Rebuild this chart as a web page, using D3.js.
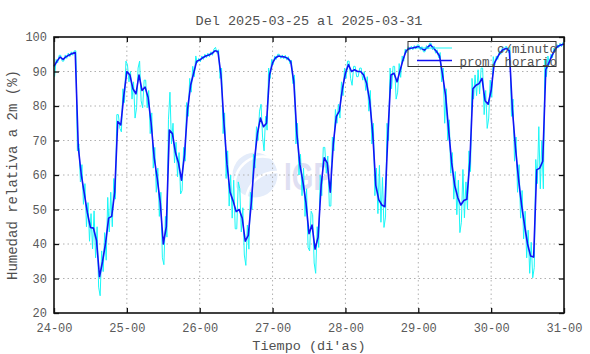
<!DOCTYPE html>
<html>
<head>
<meta charset="utf-8">
<script src="https://cdn.jsdelivr.net/npm/d3@7"></script>
<style>
  body { margin: 0; background: #fff; }
  text { font-family: "Liberation Mono", "DejaVu Sans Mono", monospace; fill: #505050; }
</style>
</head>
<body>
<svg id="chart" width="590" height="354"></svg>
<script>
// tick labels
const dayLabels = ["24-00", "25-00", "26-00", "27-00", "28-00", "29-00", "30-00", "31-00"];
const humTicks = [20, 30, 40, 50, 60, 70, 80, 90, 100];

// hourly mean RH (%), one value per hour from 24-00 to 31-00
const hourlyMean = [
  91.5, 93, 94.2, 93.5, 94.3, 94.8, 95.2, 95.5, 68, 60, 54.5, 49, 44.8, 44.6, 41, 30.5, 35, 40.3, 47.5, 48, 55, 75.5, 74.5, 83,
  90, 89, 85, 83.5, 89, 84.5, 85.5, 82.5, 75, 65, 59, 52, 40, 45, 73, 72, 66.5, 63.5, 58.5, 66, 79, 86, 89.5, 93,
  93.3, 94, 94.5, 94.8, 95.2, 96, 95.8, 89, 75, 63, 55, 52.5, 49.4, 50, 47.5, 40.8, 42.5, 52, 64, 72, 76.5, 74, 75, 89,
  92.5, 94, 94.5, 94.3, 94.2, 93.8, 92.8, 87, 72, 63, 58, 52, 43, 45.5, 38.5, 42, 57, 65, 63.5, 55, 69, 77, 78.5, 85,
  89.5, 92, 90, 90.5, 90, 90, 89, 86.5, 81.5, 72, 57, 52.8, 51.3, 50.8, 72, 89, 89.5, 87, 90.3, 93.5, 96, 96.7, 96.8, 97,
  97.2, 96.7, 96.2, 97, 97.7, 96.8, 95.8, 94.5, 89, 83, 73, 63.5, 57, 53.5, 51.3, 52.6, 53, 64, 85, 86, 86.5, 88, 81.5, 80.5,
  84.5, 92.3, 94, 95.5, 96.4, 96.7, 96, 79, 68, 59, 51.5, 45.5, 40, 36.5, 36.2, 61.5, 62, 64, 90.5, 92.5, 94.5, 96.3, 97.3, 97.7,
  98
];

// per-minute spread inside each hour: how far the minute readings go below / above the hourly segment
const minuteDown = [
  3, .5, .5, .5, .5, .5, .5, 1, 2, 3, 4, 4, 6, 5, 3, 5.5, 3, 5, 4, 3, 2, 1, 2, 2,
  2, 3, 7, 4, 3, 5, 3, 3, 3, 4, 4, 4, 6, 3, 3, 3, 4, 4, 3, 2, 2, 2, 1, .5,
  .5, .5, .5, .5, .5, .5, 1, 3, 4, 4, 5, 5, 5, 4, 4, 7, 4, 2, 2, 2, 3, 7, 2, 1,
  .5, .5, .5, .5, .5, .5, .5, 3, 3, 4, 4, 4, 5, 4, 7, 3, 3, 3, 4, 4, 2, 2, 2, 2,
  1.5, 2, 4, 1.5, 1.5, 1.5, 2, 3, 3, 3, 4, 5, 6, 3, 2, 4, 5, 3, 2, .5, .5, .5, .5, .5,
  .5, .5, .5, .5, .5, .5, .5, 2, 8, 3, 3, 4, 5, 8, 5, 5, 3, 3, 3, 3, 3, 4, 7, 4,
  2, .5, .5, .5, .5, .5, 2, 4, 4, 4, 4, 4, 5, 6, 3, 4, 6, 8, 2, .5, .5, .5, .5, .5
];
const minuteUp = [
  .5, .5, .5, .5, .5, .5, .5, .5, 1, 3, 3, 3, 4, 5, 4, 3, 3, 6, 7, 4, 2, 2, 2, 3,
  2, 1, 2, 2, 4, 2, 2, 2, 3, 3, 3, 3, 3, 3, 11, 3, 3, 3, 2, 2, 2, 2, 1.5, .5,
  .5, .5, .5, .5, .5, 1, .5, 2, 3, 4, 5, 6, 8, 6, 3, 3, 3, 2, 2, 2, 4, 2, 2, 1,
  .5, .5, .5, .5, .5, .5, .5, 2, 3, 3, 4, 4, 4, 3, 3, 3, 3, 3, 2, 2, 2, 2, 2, 1.5,
  1, 1, 1, 1, 1, 1, 1, 2, 3, 3, 5, 10, 8, 3, 2, 2, 2, 2, 1, .5, .5, .5, .5, .5,
  .5, .5, .5, .5, .5, .5, .5, 1, 2, 2, 3, 3, 4, 5, 9, 5, 3, 3, 3, 4, 3, 3, 3, 3,
  2, .5, .5, .5, .5, .5, 1, 3, 3, 4, 4, 4, 4, 4, 3, 12, 6, 3, 2, .5, .5, .5, .5, .5
];

const svg = d3.select("#chart");
const plotLeft = 54, plotRight = 564, plotTop = 37, plotBottom = 313;

const x = d3.scaleLinear().domain([0, 168]).range([plotLeft, plotRight]);
const y = d3.scaleLinear().domain([20, 100]).range([plotBottom, plotTop]);
const dayHours = dayLabels.map((d, i) => i * 24);

// watermark logo
const logo = svg.append("g").attr("class", "watermark");
logo.append("circle").attr("cx", 255).attr("cy", 175).attr("r", 22.5).attr("fill", "#e4ecfa");
[[232, 188, 270, 153, 26], [237, 196, 276, 160, 28], [246, 200, 278, 172, 30]].forEach(a => {
  logo.append("path")
    .attr("d", `M${a[0]},${a[1]} A${a[4]},${a[4]} 0 0 1 ${a[2]},${a[3]}`)
    .attr("fill", "none").attr("stroke", "#fff").attr("stroke-width", 2.5);
});
logo.append("text")
  .attr("x", 284).attr("y", 190)
  .attr("textLength", 48).attr("lengthAdjust", "spacingAndGlyphs")
  .style("font-family", "'Liberation Sans', Arial, sans-serif")
  .style("font-weight", "bold").style("font-size", "38px").style("fill", "#dfdff2")
  .text("IGP");

// grid
const grid = svg.append("g").attr("stroke", "#b0b0b0").attr("stroke-width", 1).attr("stroke-dasharray", "1.5,3");
grid.selectAll(".gx").data(dayHours.slice(1, -1)).enter().append("line")
  .attr("x1", d => x(d)).attr("x2", d => x(d)).attr("y1", plotTop).attr("y2", plotBottom);
grid.selectAll(".gy").data(humTicks.slice(1, -1)).enter().append("line")
  .attr("x1", plotLeft).attr("x2", plotRight).attr("y1", d => y(d)).attr("y2", d => y(d));

// per-minute band as a zigzag through each hour's low and high
const cyanPts = [];
for (let h = 0; h < minuteDown.length; h++) {
  const a = hourlyMean[h], b = hourlyMean[h + 1];
  const lo = Math.min(a, b) - minuteDown[h], hi = Math.max(a, b) + minuteUp[h];
  if (b < a) { cyanPts.push([h + 0.2, hi], [h + 0.7, lo]); }
  else { cyanPts.push([h + 0.2, lo], [h + 0.7, hi]); }
}
const line = d3.line().x(d => x(d[0])).y(d => y(d[1]));

svg.append("path").datum(cyanPts)
  .attr("fill", "none").attr("stroke", "#19f7f7").attr("stroke-width", 1)
  .attr("d", line);

svg.append("path").datum(hourlyMean.map((v, i) => [i, v]))
  .attr("fill", "none").attr("stroke", "#1212f5").attr("stroke-width", 1.6)
  .attr("stroke-linejoin", "round")
  .attr("d", line);

// axes with inward ticks on all four sides
const xAxis = d3.axisBottom(x).tickValues(dayHours).tickFormat((d, i) => dayLabels[i]).tickSize(-5).tickPadding(10);
const yAxis = d3.axisLeft(y).tickValues(humTicks).tickSize(-5).tickPadding(7);

svg.append("g").attr("transform", `translate(0,${plotBottom})`).call(xAxis);
svg.append("g").attr("transform", `translate(${plotLeft},0)`).call(yAxis);
svg.append("g").attr("transform", `translate(0,${plotTop})`).call(d3.axisTop(x).tickValues(dayHours).tickSize(-5).tickFormat(""));
svg.append("g").attr("transform", `translate(${plotRight},0)`).call(d3.axisRight(y).tickValues(humTicks).tickSize(-5).tickFormat(""));

svg.selectAll(".domain").remove();
svg.selectAll(".tick line").attr("stroke", "#111").attr("stroke-width", 1.3);
svg.selectAll(".tick text").style("font-family", "'Liberation Mono', monospace").style("font-size", "12px").style("fill", "#5a5a5a");

svg.append("rect")
  .attr("x", plotLeft).attr("y", plotTop).attr("width", plotRight - plotLeft).attr("height", plotBottom - plotTop)
  .attr("fill", "none").attr("stroke", "#111").attr("stroke-width", 1.6);

// legend
const legend = svg.append("g");
legend.append("rect").attr("x", 408).attr("y", 41.5).attr("width", 148).attr("height", 25)
  .attr("fill", "none").attr("stroke", "#333").attr("stroke-width", 1);
legend.append("line").attr("x1", 417).attr("x2", 452).attr("y1", 48).attr("y2", 48)
  .attr("stroke", "#19f7f7").attr("stroke-width", 1);
legend.append("line").attr("x1", 417).attr("x2", 452).attr("y1", 60.5).attr("y2", 60.5)
  .attr("stroke", "#1212f5").attr("stroke-width", 1.6);
legend.append("text").attr("x", 557).attr("y", 53).attr("text-anchor", "end")
  .style("font-size", "12.5px").text("c/minuto");
legend.append("text").attr("x", 557).attr("y", 65.5).attr("text-anchor", "end")
  .style("font-size", "12.5px").text("prom. horario");

// titles
svg.append("text").attr("x", 309).attr("y", 25).attr("text-anchor", "middle")
  .style("font-size", "13.5px").text("Del 2025-03-25 al 2025-03-31");
svg.append("text").attr("x", 309).attr("y", 350).attr("text-anchor", "middle")
  .style("font-size", "13.5px").text("Tiempo (di'as)");
svg.append("text").attr("transform", "translate(17,175) rotate(-90)").attr("text-anchor", "middle")
  .style("font-size", "14px").text("Humedad relativa a 2m (%)");
</script>
</body>
</html>
